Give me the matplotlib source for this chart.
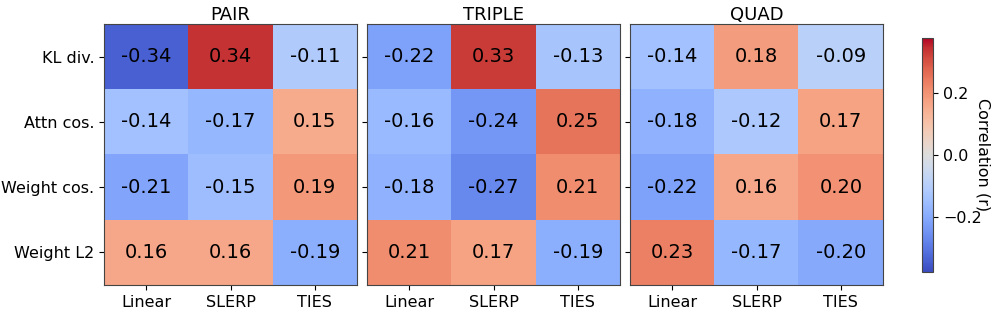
import numpy as np
import matplotlib
matplotlib.use("Agg")
import matplotlib.pyplot as plt

methods = ["Linear", "SLERP", "TIES"]
metrics = ["KL div.", "Attn cos.", "Weight cos.", "Weight L2"]
panels = ["PAIR", "TRIPLE", "QUAD"]

pair = [[-0.34, 0.34, -0.11],
        [-0.14, -0.17, 0.15],
        [-0.21, -0.15, 0.19],
        [0.16, 0.16, -0.19]]
triple = [[-0.22, 0.33, -0.13],
          [-0.16, -0.24, 0.25],
          [-0.18, -0.27, 0.21],
          [0.21, 0.17, -0.19]]
quad = [[-0.14, 0.18, -0.09],
        [-0.18, -0.12, 0.17],
        [-0.22, 0.16, 0.20],
        [0.23, -0.17, -0.20]]

vlim = 0.376

fig = plt.figure(figsize=(9.97, 3.13), dpi=100)
lefts = [104, 367, 630]
for i, (name, data) in enumerate(zip(panels, [pair, triple, quad])):
    ax = fig.add_axes([lefts[i] / 997, 1 - 285 / 313, 253 / 997, 261 / 313])
    arr = np.array(data)
    im = ax.imshow(arr, cmap="coolwarm", vmin=-vlim, vmax=vlim, aspect="auto")
    for r in range(arr.shape[0]):
        for c in range(arr.shape[1]):
            ax.text(c, r, f"{arr[r, c]:.2f}", ha="center", va="center", fontsize=14)
    ax.set_xticks(range(len(methods)))
    ax.set_xticklabels(methods, fontsize=11.5)
    ax.set_yticks(range(len(metrics)))
    if i == 0:
        ax.set_yticklabels(metrics, fontsize=11.5)
    else:
        ax.set_yticklabels([])
    ax.set_title(name, fontsize=13, pad=3)
    for s in ax.spines.values():
        s.set_edgecolor("#444444")

cax = fig.add_axes([921.7 / 997, 1 - 271.7 / 313, 11.6 / 997, 233.4 / 313])
cb = fig.colorbar(im, cax=cax, ticks=[-0.2, 0.0, 0.2])
cb.ax.tick_params(labelsize=11.5)
cb.set_label("Correlation (r)", rotation=270, labelpad=1, va="bottom", fontsize=11.5)
cb.ax.yaxis.set_label_coords(4.6, 0.5)
cb.outline.set_edgecolor("#444444")

fig.savefig("out.png", dpi=100)
